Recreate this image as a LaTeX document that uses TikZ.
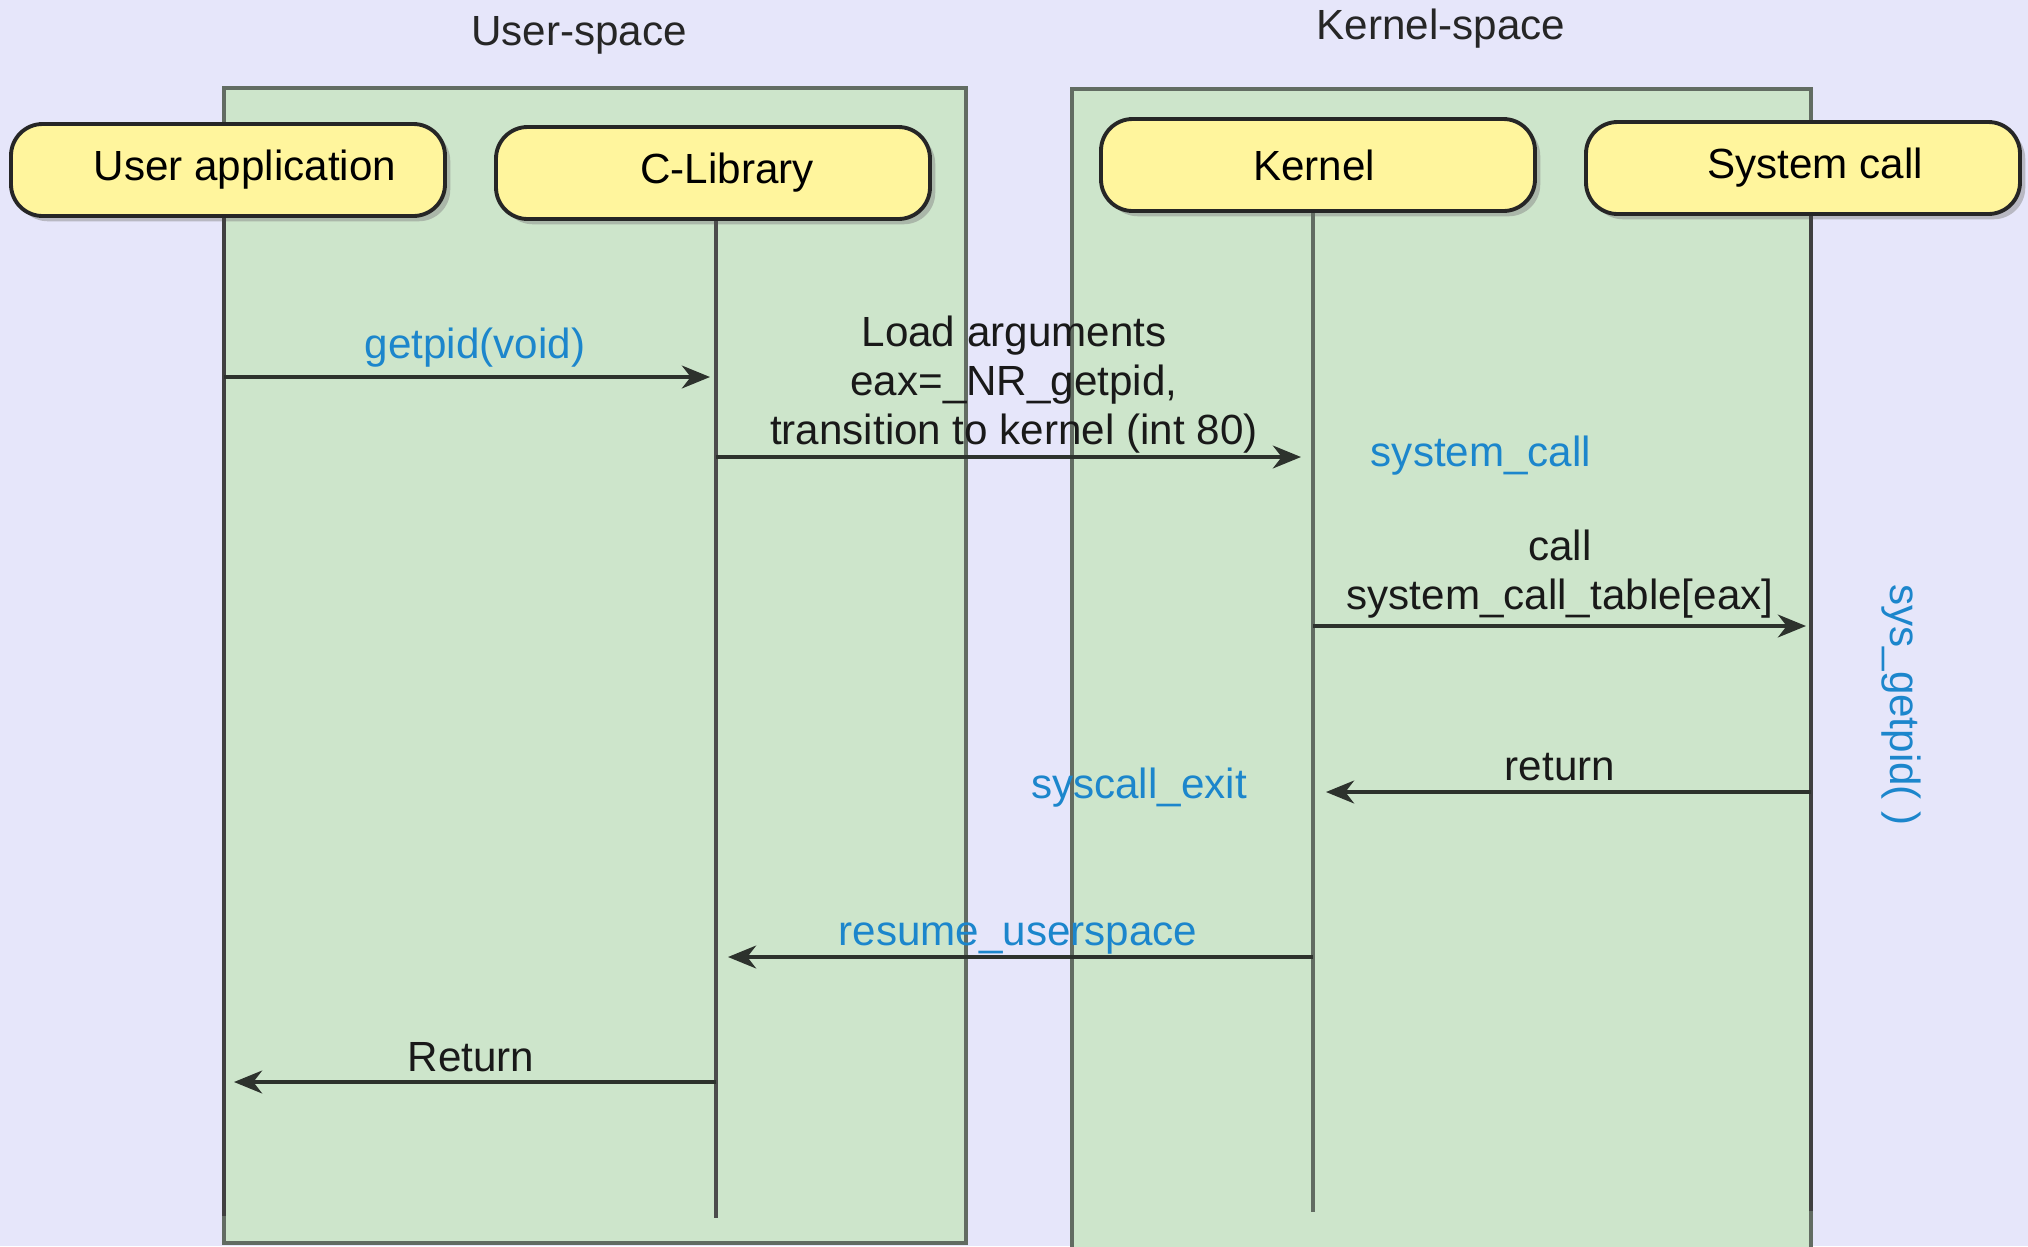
\documentclass[tikz,border=0pt]{standalone}
\usepackage{fontspec}
\setmainfont{Liberation Sans}
\usetikzlibrary{arrows.meta}
\usetikzlibrary{shadows}

\definecolor{lavenderBg}{RGB}{230,230,250}
\definecolor{spaceGreen}{RGB}{205,229,203}
\definecolor{spaceGrey}{RGB}{98,108,98}
\definecolor{actorYellow}{RGB}{255,245,157}
\definecolor{labelBlue}{RGB}{28,134,204}
\definecolor{msgDark}{RGB}{45,50,45}

\begin{document}
\begin{tikzpicture}[
	font=\fontsize{12}{14}\selectfont,
	space/.style={fill=spaceGreen, draw=spaceGrey, line width=1.1pt},
	actor/.style={draw=black!85, line width=1.1pt, fill=actorYellow, rounded corners=9pt,
		minimum width=4.34cm, minimum height=0.92cm, inner sep=0pt,
		drop shadow={shadow xshift=1.5pt, shadow yshift=-1.5pt, fill=black!50, opacity=0.45}},
	life/.style={draw=black!75, line width=0.9pt},
	msg/.style={draw=msgDark, line width=1pt, -{Stealth[length=8pt, width=6.5pt, inset=2.5pt]}},
	blueLabel/.style={text=labelBlue, inner sep=0pt, anchor=base},
	blackLabel/.style={text=black!90, inner sep=0pt, align=center}
]

	%page colour and fixed bounding box
	\fill[lavenderBg] (0,0) rectangle (20.28,-12.46);
	\useasboundingbox (0,0) rectangle (20.28,-12.46);

	%declare lifeline positions
	\def\xUser{2.24}
	\def\xLib{7.16}
	\def\xKern{13.13}
	\def\xSys{18.11}

	%user-space and kernel-space boxes
	\filldraw[space] (\xUser,-0.88) rectangle (9.66,-12.43);
	\filldraw[space] (10.72,-0.89) rectangle (\xSys,-12.70);
	\node[anchor=base, text=black!85] (userTitle) at (5.79,-0.45) {User-space};
	\node[anchor=base, text=black!85] (kernelTitle) at (14.41,-0.39) {Kernel-space};

	%actors, text sits a little right of the box centre as in the original
	\node[actor] (userApp) at (2.28,-1.70) {\hspace*{0.34cm}User application};
	\node[actor] (cLib) at (7.13,-1.73) {\hspace*{0.28cm}C-Library};
	\node[actor] (kernel) at (13.18,-1.65) {Kernel\hspace*{0.08cm}};
	\node[actor] (sysCall) at (18.03,-1.68) {\hspace*{0.24cm}System call};

	%lifelines
	\coordinate (userEnd) at (\xUser,-12.16);
	\coordinate (cLibEnd) at (\xLib,-12.18);
	\coordinate (kernelEnd) at (\xKern,-12.12);
	\coordinate (sysCallEnd) at (\xSys,-12.11);
	\draw[life] (userApp.south -| userEnd) -- (userEnd);
	\draw[life, draw=black!70] (cLib.south -| cLibEnd) -- (cLibEnd);
	\draw[life, draw=spaceGrey] (kernel.south -| kernelEnd) -- (kernelEnd);
	\draw[life] (sysCall.south -| sysCallEnd) -- (sysCallEnd);

	%message end points on the lifelines
	\coordinate (userGetpid) at (\xUser,-3.77);
	\coordinate (cLibGetpid) at (7.10,-3.77);
	\coordinate (cLibLoad) at (\xLib,-4.57);
	\coordinate (kernelLoad) at (13.01,-4.57);
	\coordinate (kernelCall) at (\xKern,-6.26);
	\coordinate (sysCallCall) at (18.06,-6.26);
	\coordinate (sysCallRet) at (\xSys,-7.92);
	\coordinate (kernelRet) at (13.26,-7.92);
	\coordinate (kernelResume) at (\xKern,-9.57);
	\coordinate (cLibResume) at (7.28,-9.57);
	\coordinate (cLibReturn) at (\xLib,-10.82);
	\coordinate (userReturn) at (2.34,-10.82);

	%messages
	\draw[msg] (userGetpid) -- (cLibGetpid);
	\draw[msg] (cLibLoad) -- (kernelLoad);
	\draw[msg] (kernelCall) -- (sysCallCall);
	\draw[msg] (sysCallRet) -- (kernelRet);
	\draw[msg] (kernelResume) -- (cLibResume);
	\draw[msg] (cLibReturn) -- (userReturn);

	%labels
	\node[blueLabel] (getpidLbl) at (4.75,-3.58) {getpid(void)};
	\node[blackLabel, anchor=south] (loadLbl) at (10.14,-4.54)
		{Load arguments\\eax=\_NR\_getpid,\\transition to kernel (int 80)};
	\node[blueLabel] (systemCallLbl) at (14.81,-4.66) {system\_call};
	\node[blackLabel, anchor=south] (callLbl) at (15.60,-6.19) {call\\system\_call\_table[eax]};
	\node[blackLabel, anchor=base] (returnLbl) at (15.60,-7.80) {return};
	\node[blueLabel] (exitLbl) at (11.39,-7.98) {syscall\_exit};
	\node[blueLabel] (resumeLbl) at (10.18,-9.45) {resume\_userspace};
	\node[blackLabel, anchor=base] (bigReturnLbl) at (4.71,-10.71) {Return};
	\node[blueLabel, anchor=center, rotate=-90] (sysGetpidLbl) at (19.01,-7.05) {sys\_getpid( )};

\end{tikzpicture}
\end{document}
